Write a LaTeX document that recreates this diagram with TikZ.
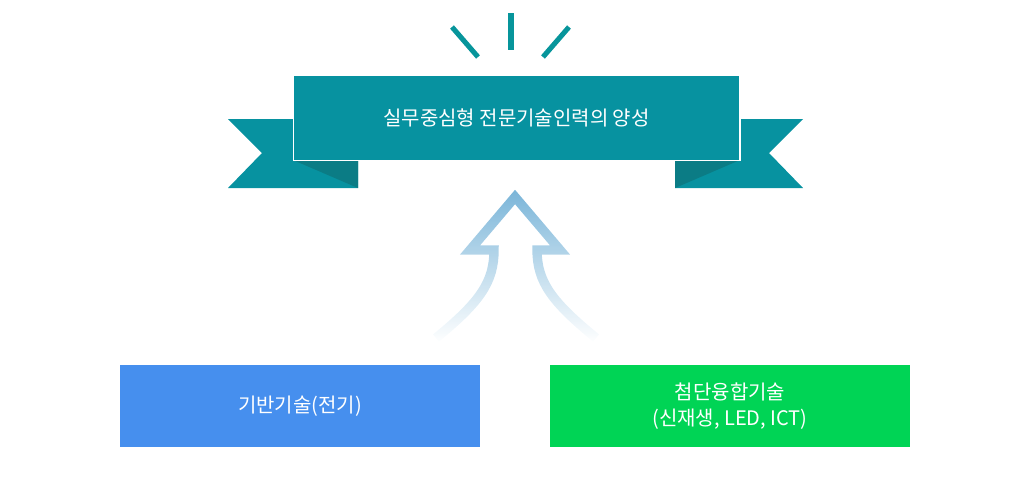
\documentclass[tikz,border=0pt]{standalone}
\usepackage{fontspec}
\setmainfont{Noto Sans CJK KR}
\usetikzlibrary{fadings}
\definecolor{teal1}{HTML}{0792A0}
\definecolor{teal2}{HTML}{0B7C85}
\definecolor{rayc}{HTML}{07959B}
\definecolor{arrowc}{HTML}{7CB6D9}
\definecolor{boxblue}{HTML}{468FEE}
\definecolor{boxgreen}{HTML}{00D455}
\tikzset{
  ray/.style={rayc, line width=3.8pt},
  skillbox/.style={minimum width=270pt, minimum height=61.5pt, text=white, font=\fontsize{15}{19}\selectfont, align=center, inner sep=0pt},
}
\begin{document}
\begin{tikzpicture}[x=0.75pt, y=-0.75pt]
  \useasboundingbox (0,0) rectangle (1029,487);
  % rays
  \draw[ray] (452,27) -- (478,57);
  \draw[ray] (511,13) -- (511,50);
  \draw[ray] (569,27) -- (543,57);
  % ribbon tails
  \fill[teal1] (228,119) -- (358,119) -- (358,188) -- (228,188) -- (262,153) -- cycle;
  \fill[teal1] (675,119) -- (803,119) -- (769,153) -- (803,188) -- (675,188) -- cycle;
  \fill[teal2] (293,160) -- (358,160) -- (358,188) -- cycle;
  \fill[teal2] (740,160) -- (675,160) -- (675,188) -- cycle;
  \node[fill=teal1, draw=white, line width=1pt, minimum width=335pt, minimum height=64pt, inner sep=0pt, text=white, font=\fontsize{15}{18}\selectfont] (goal) at (516.5,117.5) {실무중심형 전문기술인력의 양성};
  % arrow
  \draw[arrowc, line width=7pt, line join=miter, path fading=south]
    (436,338) .. controls (480,302) and (494,282) .. (494,250) -- (470,250) -- (515,197) -- (560,250) -- (537,250) .. controls (537,282) and (552,302) .. (596,338);
  % boxes
  \node[skillbox, fill=boxblue] (base) at (300,406) {기반기술(전기)};
  \node[skillbox, fill=boxgreen] (adv) at (730,406) {첨단융합기술\\(신재생, LED, ICT)};
\end{tikzpicture}
\end{document}
